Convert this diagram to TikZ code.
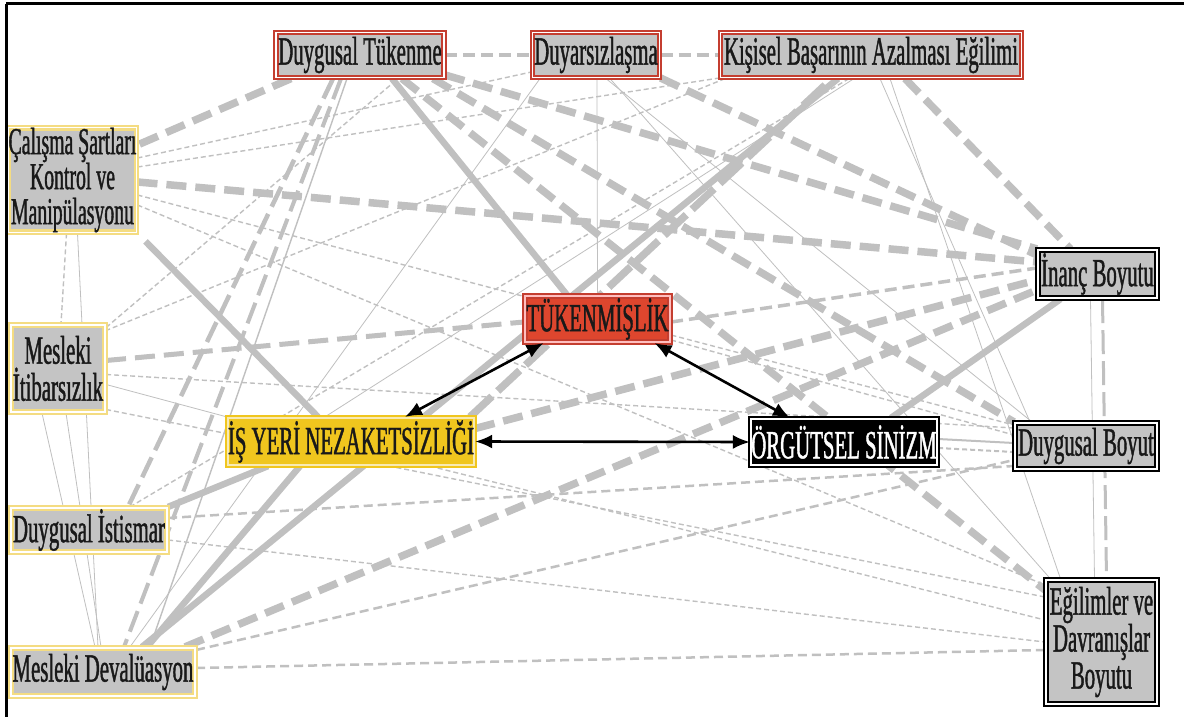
\documentclass[tikz,border=0pt]{standalone}
\usepackage{fontspec}
\newfontfamily\cond{Liberation Serif}[FakeStretch=0.52,FakeBold=1]
\usetikzlibrary{arrows.meta,backgrounds}
\definecolor{lg}{RGB}{192,192,192}
\definecolor{nodegray}{RGB}{196,196,196}
\definecolor{redb}{RGB}{196,62,48}
\definecolor{tukfill}{RGB}{222,70,46}
\definecolor{yelb}{RGB}{244,220,130}
\definecolor{isfill}{RGB}{240,198,30}
\definecolor{txt}{RGB}{25,25,25}
\begin{document}
\begin{tikzpicture}[x=1pt,y=-1pt,
  box/.style={draw, double, line width=2.2pt, double distance=1.4pt, inner sep=0pt,
    align=center, text=txt, font=\cond\fontsize{40}{37}\selectfont},
  redbox/.style={box, draw=redb, double=white, fill=nodegray},
  yelbox/.style={box, draw=yelb, double=white, fill=nodegray},
  blkbox/.style={box, draw=black, double=white, fill=nodegray},
  thickA/.style={lg, line width=6.5pt},
  thickB/.style={lg, line width=7.5pt, dash pattern=on 20pt off 9pt},
  medC/.style={lg, line width=3.5pt, dash pattern=on 12pt off 6pt},
  thinD/.style={lg, line width=1.4pt, dash pattern=on 5pt off 3pt},
  hairE/.style={lg, line width=0.8pt},
  arr/.style={black, line width=2.6pt, {Latex[length=17pt,width=14pt]}-{Latex[length=17pt,width=14pt]}}
]
\useasboundingbox (0,0) rectangle (1184,717);

% nodes
\node[redbox, minimum width=168pt, minimum height=45pt] (DT) at (360,55) {Duygusal Tükenme};
\node[redbox, minimum width=127pt, minimum height=45pt] (DZ) at (596,55) {Duyarsızlaşma};
\node[redbox, minimum width=301pt, minimum height=45pt] (KB) at (871,55) {Kişisel Başarının Azalması Eğilimi};
\node[yelbox, minimum width=123pt, minimum height=98pt, font=\cond\fontsize{38}{35}\selectfont] (CS) at (72.5,180) {Çalışma Şartları\\Kontrol ve\\Manipülasyonu};
\node[yelbox, minimum width=94pt, minimum height=87pt] (IT) at (58,368.5) {Mesleki\\İtibarsızlık};
\node[yelbox, minimum width=156pt, minimum height=44pt] (DI) at (89,530) {Duygusal İstismar};
\node[yelbox, minimum width=184pt, minimum height=48pt] (MD) at (103,672) {Mesleki Devalüasyon};
\node[box, draw=redb, double=white!75!red, fill=tukfill, minimum width=145pt, minimum height=46pt] (TUK) at (597.5,319) {TÜKENMİŞLİK};
\node[box, draw=isfill, double=yelb!60!white, fill=isfill, minimum width=246pt, minimum height=47pt] (IS) at (351,441.5) {İŞ YERİ NEZAKETSİZLİĞİ};
\node[box, draw=black, double=white, fill=black, text=white, minimum width=186pt, minimum height=46pt] (ORG) at (844,442) {ÖRGÜTSEL SİNİZM};
\node[blkbox, minimum width=119pt, minimum height=48pt] (IN) at (1097.5,274) {İnanç Boyutu};
\node[blkbox, minimum width=142pt, minimum height=46pt] (DB) at (1086,446) {Duygusal Boyut};
\node[blkbox, minimum width=111pt, minimum height=124pt] (EG) at (1101.5,642) {Eğilimler ve\\Davranışlar\\Boyutu};

\begin{pgfonlayer}{background}
\fill[white] (0,0) rectangle (1184,717);
% thin solid
\draw[hairE] ([xshift=-56pt]DZ.south) -- ([xshift=27pt]MD.north);
\draw[hairE] ([xshift=1pt]DZ.south) -- (TUK.north);
\draw[hairE] ([xshift=10pt]DZ.south) -- ([xshift=-54pt]DB.north);
\draw[hairE] ([xshift=14pt]DZ.south) -- ([xshift=-51pt]EG.north);
\draw[hairE] ([xshift=9pt]KB.south) -- ([xshift=-56pt]DB.north);
\draw[hairE] ([xshift=19pt]KB.south) -- ([xshift=-41pt]EG.north);
\draw[hairE] ([xshift=5pt]CS.south) -- ([xshift=-5pt]MD.north);
\draw[hairE] ([xshift=8pt]IT.south) -- ([xshift=-2pt]MD.north);
\draw[hairE] ([xshift=-16pt]IT.south) -- ([xshift=-8pt]MD.north);
\draw[hairE] ([yshift=-16pt]IT.east) -- (IS.north west);
\draw[hairE, line width=1.4pt] ([xshift=-13pt]DT.south) -- ([xshift=47pt]MD.north);
\draw[hairE] ([xshift=-7pt]IN.south) -- ([xshift=-7pt]EG.north);
\draw[hairE] ([xshift=-17pt]KB.south) -- ([xshift=-103pt]IS.south);
% thin dashed
\draw[thinD] ([yshift=22pt]CS.east) -- ([yshift=-17pt]DZ.west);
\draw[thinD] ([yshift=13pt]CS.east) -- ([yshift=-23pt]KB.west);
\draw[thinD] ([yshift=-15pt]CS.east) -- ([yshift=21pt]DB.west);
\draw[thinD] ([yshift=-25pt]CS.east) -- ([yshift=57pt]EG.west);
\draw[thinD] ([yshift=41pt]IT.east) -- ([xshift=38pt]DT.south);
\draw[thinD] ([yshift=-6pt]IT.east) -- ([yshift=18pt]DB.west);
\draw[thinD] ([yshift=-41pt]IT.east) -- ([yshift=45pt]EG.west);
\draw[thinD] ([xshift=-146pt]KB.south) -- ([yshift=38pt]IT.east);
\draw[thinD] ([xshift=79pt]IS.south) -- ([yshift=22pt]EG.west);
\draw[thinD] ([yshift=-21pt]TUK.east) -- ([yshift=11pt]DB.west);
\draw[thinD] ([xshift=41pt]DI.north) -- ([xshift=-22pt]KB.south);
\draw[thinD] ([xshift=-6pt]CS.south) -- ([xshift=3pt]IT.north);
\draw[thinD] ([yshift=-10pt]DI.east) -- (EG.west);
\draw[thinD, line width=2pt] ([yshift=-6pt]ORG.east) -- ([yshift=-6pt]DB.west);
\draw[hairE, line width=2pt] ([yshift=3pt]ORG.east) -- ([yshift=3pt]DB.west);
% medium dashed
\draw[medC] (DT.east) -- (DZ.west);
\draw[medC] (DZ.east) -- (KB.west);
\draw[medC, line width=4.5pt, dash pattern=on 22pt off 8pt] ([xshift=-27pt]DT.south) -- ([xshift=39pt]DI.north);
\draw[medC, line width=4pt, dash pattern=on 22pt off 8pt] ([xshift=-19pt]DT.south) -- ([xshift=21pt]MD.north);
\draw[medC, line width=2.5pt, dash pattern=on 9pt off 5pt] ([yshift=12pt]DI.east) -- ([yshift=-20pt]DB.west);
\draw[medC, line width=2.5pt, dash pattern=on 9pt off 5pt] ([yshift=22pt]MD.east) -- ([yshift=-14pt]DB.west);
\draw[medC, line width=2.5pt, dash pattern=on 9pt off 5pt] ([yshift=4pt]MD.east) -- ([yshift=-8pt]EG.west);
\draw[medC, line width=3pt, dash pattern=on 24pt off 7pt] ([xshift=5pt]IN.south) -- ([xshift=5pt]EG.north);
\draw[medC] ([yshift=-3pt]TUK.east) -- ([yshift=6pt]IN.west);
% thick dashed
\draw[thickB] ([xshift=-69pt]DT.south) -- ([yshift=35pt]CS.east);
\draw[thickB] ([yshift=-20pt]DT.east) -- (IN.north west);
\draw[thickB] ([xshift=73pt]DT.south) -- (DB.north west);
\draw[thickB] ([xshift=42pt]DT.south) -- ([yshift=52pt]EG.west);
\draw[thickB] ([yshift=-23pt]DZ.east) -- ([yshift=19pt]IN.west);
\draw[thickB] ([xshift=34pt]KB.south) -- ([xshift=-27pt]IN.north);
\draw[thickB] ([yshift=-2pt]CS.east) -- ([yshift=12pt]IN.west);
\draw[thickB, line width=5pt] ([yshift=8pt]IT.east) -- ([yshift=-3pt]TUK.west);
\draw[thickB] ([xshift=82pt]MD.north) -- ([yshift=-16pt]IN.west);
\draw[thickB] ([yshift=13pt]IS.east) -- ([yshift=-6pt]IN.west);
\draw[thickB, dash pattern=on 30pt off 8pt] ([xshift=119pt]IS.north) -- ([xshift=-39pt]KB.south);
% thick solid
\draw[thickA] ([xshift=32pt]DT.south) -- ([xshift=-30.5pt]TUK.north);
\draw[thickA] ([xshift=8pt,yshift=-8pt]CS.south east) -- ([xshift=-33pt]IS.north);
\draw[thickA] ([xshift=39pt]MD.north) -- ([xshift=-33pt]KB.south);
\draw[thickA] ([xshift=44pt]MD.north) -- ([xshift=-51pt]IS.south);
\draw[thickA] ([xshift=47pt]ORG.north) -- ([xshift=-37pt]IN.south);
\draw[thickA] (DI.north east) -- ([xshift=-83pt]IS.south);
\end{pgfonlayer}

% arrows
\draw[arr] ([xshift=-54pt]TUK.south) -- ([xshift=54pt]IS.north);
\draw[arr] ([xshift=57pt]TUK.south) -- ([xshift=-54pt]ORG.north);
\draw[arr] (IS.east) -- (ORG.west);

% frame
\draw[black, line width=3pt] (6,4) -- (1184,4);
\draw[black, line width=3pt] (6,4) -- (6,717);
\end{tikzpicture}
\end{document}
